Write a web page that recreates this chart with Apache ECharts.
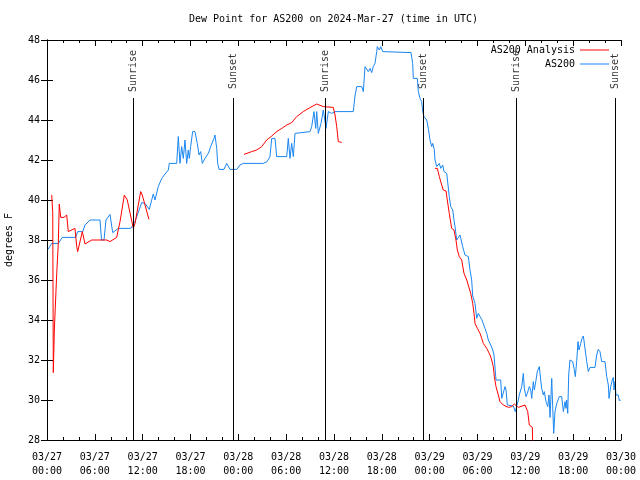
<!DOCTYPE html>
<html><head><meta charset="utf-8">
<script src="https://cdn.jsdelivr.net/npm/echarts@6/dist/echarts.min.js"></script>
<style>html,body{margin:0;padding:0;background:#fff}#c{width:640px;height:480px}</style>
</head><body><div id="c"></div>
<script>
// hours since 2024-03-27 00:00 UTC, dew point (F)
const as200 = [[0.13,37.53],[0.59,37.83],[1.42,37.83],[1.92,38.13],[3.60,38.13],[3.85,38.42],[4.48,38.42],[4.77,38.75],[5.39,39.0],[6.65,39.0],[6.84,38.0],[7.15,38.0],[7.40,39.0],[7.90,39.28],[8.24,38.37],[8.94,38.58],[10.50,38.58],[11.04,38.92],[11.88,39.87],[12.29,39.83],[12.83,39.53],[13.33,40.3],[13.55,40.0],[13.96,40.67],[14.39,41.08],[14.80,41.3],[15.22,41.5],[15.34,41.83],[16.27,41.83],[16.47,43.17],[16.68,41.83],[16.89,42.67],[17.10,42.08],[17.31,43.0],[17.52,41.83],[17.72,42.5],[17.85,42.08],[18.02,42.67],[18.27,43.42],[18.56,43.42],[18.85,42.83],[19.07,42.25],[19.28,42.42],[19.48,41.83],[19.82,42.08],[20.24,42.33],[20.53,42.67],[20.95,43.08],[21.07,43.25],[21.29,42.58],[21.41,41.83],[21.58,41.53],[22.20,41.53],[22.54,41.83],[22.96,41.53],[23.80,41.53],[24.21,41.75],[24.62,41.83],[27.13,41.83],[27.60,41.92],[27.97,42.17],[28.19,43.08],[28.60,43.08],[28.81,42.17],[30.07,42.17],[30.27,43.08],[30.48,42.08],[30.69,42.83],[30.90,42.17],[31.11,43.33],[31.32,43.42],[32.99,43.42],[33.20,43.67],[33.49,44.42],[33.71,43.58],[33.83,44.42],[34.03,43.33],[34.24,43.33],[34.37,43.83],[34.66,44.5],[35.0,43.58],[35.29,44.42],[35.71,44.33],[36.13,44.42],[38.42,44.42],[38.63,45.2],[38.85,45.67],[39.48,45.67],[39.68,45.42],[39.89,46.67],[40.30,46.42],[40.52,46.58],[40.73,46.37],[40.93,46.67],[41.14,46.83],[41.36,47.42],[41.43,47.67],[41.68,47.5],[41.86,47.67],[42.11,47.42],[42.27,47.37],[45.66,47.37],[45.87,46.83],[45.95,46.08],[46.45,46.08],[46.58,45.42],[46.79,45.08],[47.0,44.92],[47.13,44.42],[47.29,44.17],[47.63,44.0],[47.83,43.58],[48.04,43.0],[48.26,42.67],[48.38,42.83],[48.58,42.53],[48.67,42.0],[48.88,41.67],[49.21,41.83],[49.39,41.58],[49.64,41.75],[49.80,41.42],[50.14,41.33],[50.34,41.33],[50.46,40.17],[50.64,39.67],[50.89,39.5],[51.05,39.0],[51.18,38.67],[51.39,38.0],[51.59,37.92],[51.81,38.25],[52.02,38.17],[52.14,37.67],[52.43,37.25],[52.85,37.17],[53.06,36.5],[53.27,36.0],[53.40,35.2],[53.69,34.83],[53.90,34.08],[54.10,34.33],[54.32,34.17],[54.53,34.03],[54.73,34.0],[54.94,33.58],[55.16,33.33],[55.36,33.0],[55.66,32.75],[55.91,32.5],[56.07,32.25],[56.32,31.0],[56.91,31.0],[57.04,30.08],[57.24,30.17],[57.45,30.67],[57.58,30.5],[57.74,29.75],[58.49,29.7],[58.74,29.42],[58.92,29.7],[59.12,30.0],[59.24,30.25],[59.42,30.17],[59.55,30.67],[59.75,31.33],[59.87,30.58],[60.09,30.17],[60.25,30.33],[60.50,30.67],[60.68,30.5],[60.80,30.08],[61.0,30.92],[61.13,30.5],[61.34,31.0],[61.50,31.42],[61.75,31.67],[61.93,31.0],[62.05,30.58],[62.26,30.25],[62.38,30.42],[62.59,29.92],[62.81,29.67],[62.97,30.25],[63.10,29.13],[63.31,31.08],[63.43,29.67],[63.56,28.33],[63.72,29.42],[63.94,29.83],[64.14,29.92],[64.26,30.17],[64.56,30.17],[64.77,29.42],[64.98,29.92],[65.10,29.58],[65.19,30.0],[65.32,29.33],[65.44,31.25],[65.60,32.0],[65.94,31.92],[66.11,31.58],[66.27,31.17],[66.44,31.92],[66.61,32.92],[66.73,32.5],[66.95,32.83],[67.11,33.08],[67.28,33.2],[67.49,33.2],[67.70,31.92],[67.90,31.42],[68.11,31.63],[68.74,31.63],[68.95,32.25],[69.15,32.53],[69.36,32.42],[69.58,31.92],[69.99,31.92],[70.21,31.17],[70.41,30.75],[70.50,30.08],[70.71,30.67],[70.91,31.0],[71.04,31.13],[71.12,30.5],[71.25,30.92],[71.37,30.25],[71.66,30.25],[71.79,29.97],[71.96,30.0]];

const analysisPart1 = [[0.59,40.25],[0.72,39.38],[0.79,31.37],[0.92,33.5],[1.22,36.33],[1.42,37.85],[1.54,39.8],[1.72,39.13],[2.13,39.13],[2.47,39.25],[2.67,38.42],[3.51,38.58],[3.73,37.67],[3.85,37.42],[4.43,38.42],[4.77,37.8],[5.61,38.0],[7.49,38.0],[7.90,37.92],[8.74,38.13],[9.16,38.92],[9.70,40.25],[10.07,40.0],[10.83,38.58],[11.04,38.83],[11.75,40.42],[11.95,40.25],[12.79,39.03]];
const analysisPart2 = [[24.71,42.28],[25.68,42.42],[26.30,42.5],[26.93,42.67],[27.56,43.0],[28.19,43.2],[28.81,43.42],[29.44,43.58],[30.07,43.75],[30.69,43.87],[31.32,44.17],[32.15,44.42],[32.99,44.62],[33.83,44.8],[34.66,44.67],[35.91,44.63],[36.13,44.25],[36.34,43.67],[36.54,42.92],[36.97,42.88]];
const analysisPart3 = [[48.67,41.58],[48.96,41.58],[49.21,41.17],[49.51,40.75],[49.71,40.5],[50.05,40.45],[50.21,40.0],[50.46,39.33],[50.76,38.58],[51.05,38.5],[51.30,38.0],[51.47,37.5],[51.72,37.17],[52.02,37.0],[52.31,36.33],[52.65,36.0],[53.15,35.33],[53.40,34.83],[53.56,34.33],[53.69,33.83],[53.98,33.58],[54.32,33.33],[54.53,33.08],[54.73,32.83],[55.16,32.58],[55.57,32.25],[55.78,32.0],[55.98,31.67],[56.11,31.17],[56.32,30.67],[56.61,30.25],[56.82,29.92],[57.24,29.75],[57.87,29.63],[58.08,29.55],[58.29,29.67],[58.62,29.8],[59.12,29.63],[59.96,29.75],[60.21,29.75],[60.30,29.42],[60.50,28.75],[60.88,28.63],[60.93,27.6]];

const sunriseHours = [10.79, 34.87, 58.83];
const sunsetHours = [23.33, 47.16, 71.25];
const xTickDays = ['03/27','03/27','03/27','03/27','03/28','03/28','03/28','03/28','03/29','03/29','03/29','03/29','03/30'];
const xTickTimes = ['00:00','06:00','12:00','18:00','00:00','06:00','12:00','18:00','00:00','06:00','12:00','18:00','00:00'];

const FONT = 'DejaVu Sans Mono';
const RED = '#ff0000', BLUE = '#1a86f0';
const events = sunriseHours.map(h => ({h, name: 'Sunrise'})).concat(sunsetHours.map(h => ({h, name: 'Sunset'})));

const axisCommon = {
  axisLine: {show: true, lineStyle: {color: '#000', width: 1}},
  axisTick: {show: true, inside: true, length: 6, lineStyle: {color: '#000'}},
  splitLine: {show: false}
};

const chart = echarts.init(document.getElementById('c'), null, {renderer: 'canvas'});
chart.setOption({
  animation: false,
  backgroundColor: '#fff',
  textStyle: {fontFamily: FONT},
  title: {text: 'Dew Point for AS200 on 2024-Mar-27 (time in UTC)', left: 184, top: 9,
    textStyle: {fontFamily: FONT, fontSize: 10, fontWeight: 'normal', color: '#000'}},
  legend: {orient: 'vertical', right: 26, top: 40, align: 'right', icon: 'rect',
    itemWidth: 29, itemHeight: 1, itemGap: 4,
    data: ['AS200 Analysis', 'AS200'],
    textStyle: {fontFamily: FONT, fontSize: 10, color: '#000'}},
  grid: {left: 47, right: 19, top: 40, bottom: 40, containLabel: false, outerBoundsMode: 'none'},
  xAxis: [
    Object.assign({type: 'value', min: 0, max: 72, interval: 6, position: 'bottom',
      minorTick: {show: true, splitNumber: 3, length: 3, lineStyle: {color: '#000'}},
      axisLabel: {fontFamily: FONT, fontSize: 10, color: '#000', margin: 10, lineHeight: 14,
        formatter: v => { const i = Math.round(v / 6); return xTickDays[i] + '\n' + xTickTimes[i]; }}}, axisCommon),
    Object.assign({type: 'value', min: 0, max: 72, interval: 6, position: 'top',
      minorTick: {show: true, splitNumber: 3, length: 3, lineStyle: {color: '#000'}},
      axisLabel: {show: false}}, axisCommon)
  ],
  yAxis: [
    Object.assign({type: 'value', min: 28, max: 48, interval: 2, position: 'left',
      name: 'degrees F', nameLocation: 'middle', nameGap: 33, nameRotate: 90,
      nameTextStyle: {fontFamily: FONT, fontSize: 10, color: '#000'},
      axisLabel: {fontFamily: FONT, fontSize: 10, color: '#000', margin: 7}}, axisCommon),
    Object.assign({type: 'value', min: 28, max: 48, interval: 2, position: 'right',
      axisLabel: {show: false}}, axisCommon)
  ],
  series: [
    {name: 'AS200', type: 'line', data: as200, showSymbol: false, symbol: 'none',
      lineStyle: {color: BLUE, width: 1}, itemStyle: {color: BLUE}, silent: true, z: 3},
    {name: 'AS200 Analysis', type: 'line', data: analysisPart1, symbol: 'none',
      lineStyle: {color: RED, width: 1}, itemStyle: {color: RED}, silent: true, z: 4},
    {name: 'AS200 Analysis', type: 'line', data: analysisPart2, symbol: 'none',
      lineStyle: {color: RED, width: 1}, itemStyle: {color: RED}, silent: true, z: 4},
    {name: 'AS200 Analysis', type: 'line', data: analysisPart3, symbol: 'none',
      lineStyle: {color: RED, width: 1}, itemStyle: {color: RED}, silent: true, z: 4},
    {name: 'sun', type: 'line', data: [], silent: true,
      markLine: {silent: true, symbol: ['none', 'none'], animation: false,
        label: {show: false}, lineStyle: {color: '#000', width: 1, type: 'solid'},
        data: events.map(e => [{coord: [e.h, 45.1]}, {coord: [e.h, 28]}])}},
    {name: 'sunlabels', type: 'scatter', symbolSize: 0, silent: true,
      data: events.map(e => [e.h, 46.45, e.name]),
      label: {show: true, position: 'inside', rotate: 90, color: '#000',
        fontFamily: FONT, fontSize: 10, formatter: p => p.value[2]}}
  ]
});
</script></body></html>
